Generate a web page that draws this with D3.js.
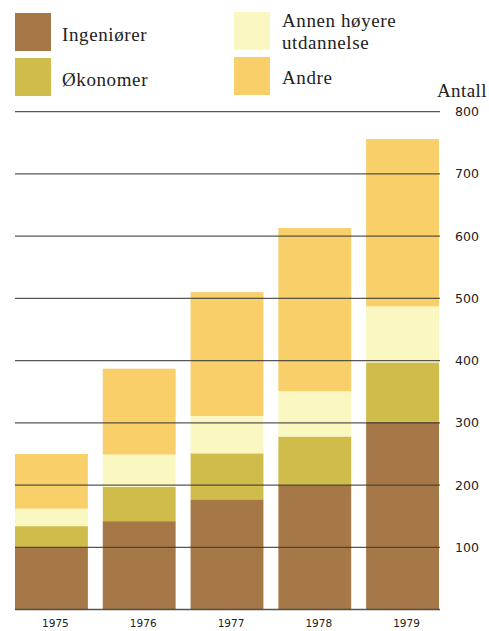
<!DOCTYPE html>
<html>
<head>
<meta charset="utf-8">
<script src="https://cdn.jsdelivr.net/npm/d3@7"></script>
<style>
  html, body { margin: 0; padding: 0; background: #fff; }
  svg { display: block; }
</style>
</head>
<body>
<svg id="chart" width="489" height="631"></svg>
<script>
const years = ["1975", "1976", "1977", "1978", "1979"];
const seriesNames = ["Ingeniører", "Økonomer", "Annen høyere utdannelse", "Andre"];
const ingeniorer = [100, 142, 177, 200, 302];
const okonomer   = [34, 55, 74, 78, 95];
const annen      = [28, 52, 60, 73, 90];
const andre      = [88, 138, 199, 262, 269];
const tickValues = [100, 200, 300, 400, 500, 600, 700, 800];
const colors = ["#a77847", "#cfbc4a", "#fbf7c0", "#f8cf69"];

const table = years.map((y, i) => ({
  year: y,
  "Ingeniører": ingeniorer[i],
  "Økonomer": okonomer[i],
  "Annen høyere utdannelse": annen[i],
  "Andre": andre[i]
}));

const svg = d3.select("#chart");
const x = d3.scaleBand().domain(years).range([15, 439]).paddingInner(0.17).paddingOuter(0);
const y = d3.scaleLinear().domain([0, 800]).range([609.5, 111.7]);
const color = d3.scaleOrdinal().domain(seriesNames).range(colors);

const stacked = d3.stack().keys(seriesNames)(table);

// bars
svg.append("g").selectAll("g").data(stacked).join("g")
  .attr("fill", d => color(d.key))
  .selectAll("rect").data(d => d).join("rect")
  .attr("x", d => x(d.data.year))
  .attr("width", x.bandwidth())
  .attr("y", d => y(d[1]))
  .attr("height", d => y(d[0]) - y(d[1]));

// gridlines over bars
const grid = [0].concat(tickValues);
svg.append("g").selectAll("line").data(grid).join("line")
  .attr("x1", 15).attr("x2", 440)
  .attr("y1", d => y(d)).attr("y2", d => y(d))
  .attr("stroke", "#3a3a3a")
  .attr("stroke-opacity", 0.85)
  .attr("stroke-width", 1.3);

// right tick labels
svg.append("g").selectAll("text").data(tickValues).join("text")
  .attr("x", 455).attr("y", d => y(d))
  .attr("dy", "0.36em")
  .attr("font-family", "DejaVu Sans, sans-serif")
  .attr("font-size", 12.5)
  .attr("fill", "#222")
  .text(d => d);

svg.append("text")
  .attr("x", 437).attr("y", 97)
  .attr("font-family", "Liberation Serif, serif")
  .attr("font-size", 19)
  .attr("letter-spacing", 0.4)
  .attr("fill", "#222")
  .text("Antall");

// year labels
svg.append("g").selectAll("text").data(years).join("text")
  .attr("x", d => x(d) + x.bandwidth() / 2 + 4)
  .attr("y", 627)
  .attr("text-anchor", "middle")
  .attr("font-family", "DejaVu Sans, sans-serif")
  .attr("font-size", 10.5)
  .attr("fill", "#222")
  .text(d => d);

// legend
const legendItems = [
  { name: seriesNames[0], lines: ["Ingeniører"], sx: 15, sy: 13, tx: 62, ty: 41 },
  { name: seriesNames[1], lines: ["Økonomer"], sx: 15, sy: 58, tx: 62, ty: 86 },
  { name: seriesNames[2], lines: ["Annen høyere", "utdannelse"], sx: 234, sy: 12, tx: 282, ty: 27 },
  { name: seriesNames[3], lines: ["Andre"], sx: 234, sy: 57, tx: 282, ty: 84 }
];
const lg = svg.append("g").selectAll("g").data(legendItems).join("g");
lg.append("rect")
  .attr("x", d => d.sx).attr("y", d => d.sy)
  .attr("width", 36).attr("height", 38)
  .attr("fill", d => color(d.name));
lg.each(function(d) {
  const t = d3.select(this).append("text")
    .attr("font-family", "Liberation Serif, serif")
    .attr("font-size", 19)
    .attr("letter-spacing", 0.6)
    .attr("fill", "#222");
  d.lines.forEach((l, i) => {
    t.append("tspan").attr("x", d.tx).attr("y", d.ty + i * 22).text(l);
  });
});
</script>
</body>
</html>
